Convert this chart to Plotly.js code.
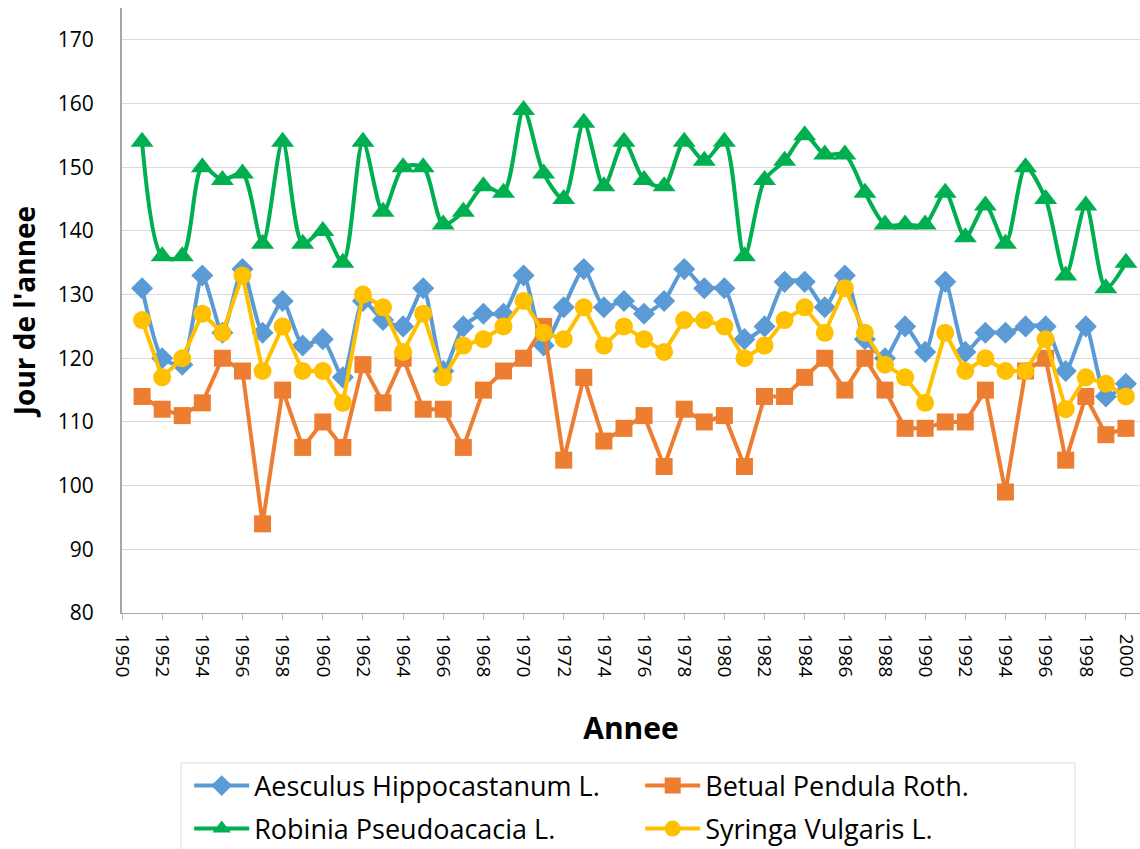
<!DOCTYPE html>
<html>
<head>
<meta charset="utf-8">
<script src="https://cdn.plot.ly/plotly-3.0.1.min.js"></script>
<style>
html,body{margin:0;padding:0;background:#fff;}
#chart{width:1140px;height:849px;}
</style>
</head>
<body>
<div id="chart"></div>
<script>
const years = [1951,1952,1953,1954,1955,1956,1957,1958,1959,1960,1961,1962,1963,1964,1965,1966,1967,1968,1969,1970,1971,1972,1973,1974,1975,1976,1977,1978,1979,1980,1981,1982,1983,1984,1985,1986,1987,1988,1989,1990,1991,1992,1993,1994,1995,1996,1997,1998,1999,2000];

const aesculus = [131,120,119,133,124,134,124,129,122,123,117,129,126,125,131,118,125,127,127,133,122,128,134,128,129,127,129,134,131,131,123,125,132,132,128,133,123,120,125,121,132,121,124,124,125,125,118,125,114,116];

const betula = [114,112,111,113,120,118,94,115,106,110,106,119,113,120,112,112,106,115,118,120,125,104,117,107,109,111,103,112,110,111,103,114,114,117,120,115,120,115,109,109,110,110,115,99,118,120,104,114,108,109];

const robinia = [154,136,136,150,148,149,138,154,138,140,135,154,143,150,150,141,143,147,146,159,149,145,157,147,154,148,147,154,151,154,136,148,151,155,152,152,146,141,141,141,146,139,144,138,150,145,133,144,131,135];

const syringa = [126,117,120,127,124,133,118,125,118,118,113,130,128,121,127,117,122,123,125,129,124,123,128,122,125,123,121,126,126,125,120,122,126,128,124,131,124,119,117,113,124,118,120,118,118,123,112,117,116,114];

const seriesNames = ["Aesculus Hippocastanum L.","Betual Pendula Roth.","Robinia Pseudoacacia L.","Syringa Vulgaris L."];

const traces = [
  {x: years, y: aesculus, name: seriesNames[0], type:'scatter', mode:'lines+markers',
   line:{color:'#5B9BD5', width:4, shape:'spline', smoothing:0.6},
   marker:{symbol:'diamond', size:17, color:'#5B9BD5'}, legend:'legend'},
  {x: years, y: betula, name: seriesNames[1], type:'scatter', mode:'lines+markers',
   line:{color:'#ED7D31', width:4},
   marker:{symbol:'square', size:17, color:'#ED7D31'}, legend:'legend'},
  {x: years, y: robinia, name: seriesNames[2], type:'scatter', mode:'lines+markers',
   line:{color:'#00B050', width:4, shape:'spline', smoothing:0.8},
   marker:{symbol:'triangle-up', size:20, color:'#00B050'}, legend:'legend2'},
  {x: years, y: syringa, name: seriesNames[3], type:'scatter', mode:'lines+markers',
   line:{color:'#FFC000', width:4},
   marker:{symbol:'circle', size:18, color:'#FFC000'}, legend:'legend2'}
];

const font = 'Open Sans, Lato, sans-serif';

const legendCommon = {
  orientation:'h', xanchor:'left', yanchor:'middle',
  xref:'paper', yref:'container',
  entrywidth:381, entrywidthmode:'pixels', itemwidth:55,
  font:{family:font, size:27, color:'#000'},
  bgcolor:'rgba(0,0,0,0)', borderwidth:0
};

const layout = {
  width:1140, height:849,
  margin:{l:122, r:0, t:8, b:236},
  paper_bgcolor:'#fff', plot_bgcolor:'#fff',
  showlegend:true,
  font:{family:font, color:'#000'},
  xaxis:{
    range:[1950, 2000.7], tick0:1950, dtick:2, tickangle:90,
    showgrid:false, zeroline:false,
    showline:true, linecolor:'#A6A6A6', linewidth:1,
    ticks:'outside', ticklen:6, tickcolor:'#BFBFBF',
    ticklabelstandoff:10, ticklabeloverflow:'allow',
    tickfont:{family:font, size:19, color:'#000'},
    title:{text:'<b>Annee</b>', font:{family:font, size:30, color:'#000'}, standoff:41},
    automargin:false
  },
  yaxis:{
    range:[80, 175], tick0:80, dtick:10,
    showgrid:true, gridcolor:'#D9D9D9', gridwidth:1,
    zeroline:false, showline:true, linecolor:'#A6A6A6', linewidth:2,
    ticks:'', ticklabelstandoff:22,
    tickfont:{family:font, size:21, color:'#000'},
    title:{text:"<b>Jour de l'annee</b>", font:{family:font, size:28, color:'#000'}, standoff:14},
    automargin:false
  },
  legend: Object.assign({x:0.066, y:1 - 786/849}, legendCommon),
  legend2: Object.assign({x:0.066, y:1 - 829/849}, legendCommon),
  shapes:[{
    type:'rect', xref:'paper', yref:'paper',
    x0:(181-122)/1018, x1:(1075-122)/1018,
    y0:(613-852)/605, y1:(613-763)/605,
    line:{color:'#D9D9D9', width:1}, fillcolor:'rgba(0,0,0,0)', layer:'below'
  }]
};

Plotly.newPlot('chart', traces, layout, {displayModeBar:false, staticPlot:true});
</script>
</body>
</html>
